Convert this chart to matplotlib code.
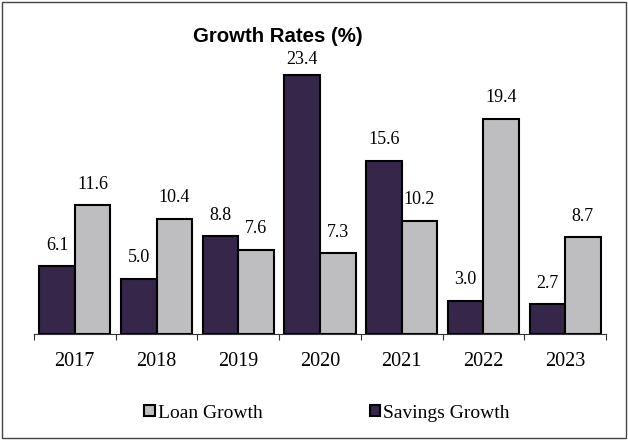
import numpy as np
import matplotlib.pyplot as plt
from matplotlib.patches import Rectangle

years = ['2017', '2018', '2019', '2020', '2021', '2022', '2023']
savings_growth = [6.1, 5.0, 8.8, 23.4, 15.6, 3.0, 2.7]
loan_growth = [11.6, 10.4, 7.6, 7.3, 10.2, 19.4, 8.7]

savings_color = '#35264a'
loan_color = '#bebec0'
serif = ['Liberation Serif', 'DejaVu Serif']

fig = plt.figure(figsize=(6.28, 4.4), dpi=100)
ax_rect = [0.054, 0.241, 0.911, 0.63]
ax = fig.add_axes(ax_rect)
ymax = 25

x = np.arange(len(years))
w = 0.435
b1 = ax.bar(x - w/2, savings_growth, w, color=savings_color, edgecolor='black',
            linewidth=1.5, label='Savings Growth')
b2 = ax.bar(x + w/2, loan_growth, w, color=loan_color, edgecolor='black',
            linewidth=1.5, label='Loan Growth')

# points per data unit, so labels near the top stay inside the plot area
pts_per_unit = ax_rect[3] * fig.get_figheight() * 72 / ymax
for bars, vals in ((b1, savings_growth), (b2, loan_growth)):
    for r, v in zip(bars, vals):
        off = min(9, (ymax - v) * pts_per_unit - 8)
        ax.annotate('{0:.1f}'.format(v), (r.get_x() + r.get_width()/2, v),
                    xytext=(0, off), textcoords='offset points',
                    ha='center', va='bottom', fontsize=13, family=serif)

ax.set_xlim(-0.5, len(years) - 0.5)
ax.set_ylim(0, ymax)
for s in ('left', 'right', 'top'):
    ax.spines[s].set_visible(False)
ax.spines['bottom'].set_color('#333333')
ax.set_yticks([])

# ticks on the category boundaries, labels in the middle
ax.set_xticks(np.arange(len(years) + 1) - 0.5)
ax.set_xticklabels([])
ax.tick_params(axis='x', which='major', length=4, color='#333333')
ax.set_xticks(x, minor=True)
ax.set_xticklabels(years, minor=True, fontsize=14.5, family=serif)
ax.tick_params(axis='x', which='minor', length=0, pad=13)

fig.text(0.443, 0.917, 'Growth Rates (%)', ha='center', va='center',
         fontsize=14.7, fontweight='bold', family='Liberation Sans')

fig.legend([b2, b1], ['Loan Growth', 'Savings Growth'], loc='center',
           bbox_to_anchor=(0.521, 1 - 413/440), ncol=2, frameon=False,
           prop={'family': serif, 'size': 14}, handlelength=0.55,
           handleheight=0.55, handletextpad=0.15, columnspacing=5.5)

fig.patches.append(Rectangle((0.003, 0.004), 0.994, 0.992, transform=fig.transFigure,
                             fill=False, edgecolor='#444444', linewidth=1))

fig.savefig('out.png', dpi=100)
